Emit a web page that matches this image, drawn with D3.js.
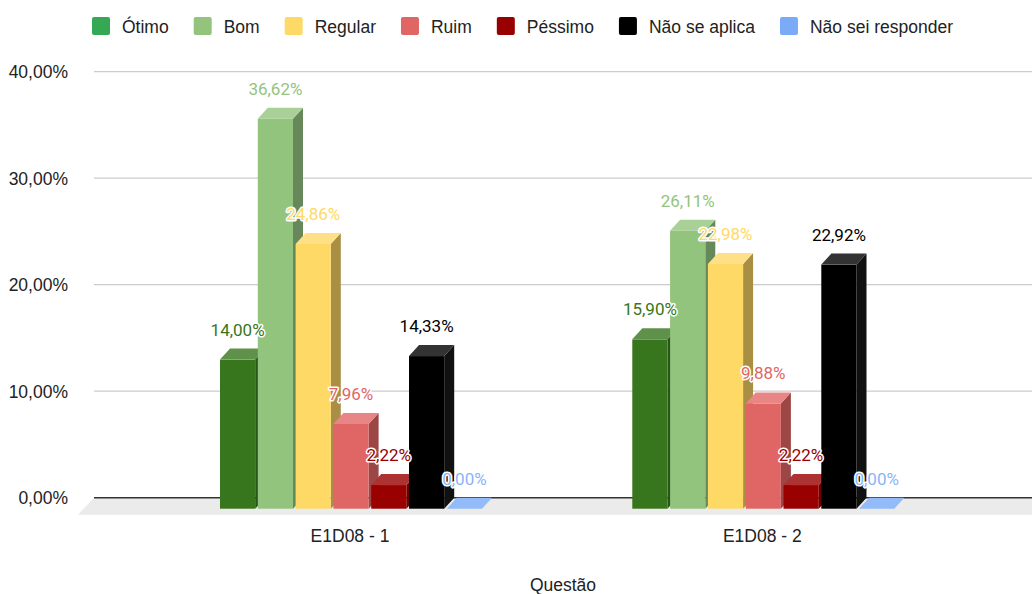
<!DOCTYPE html>
<html><head><meta charset="utf-8">
<script src="https://cdn.jsdelivr.net/npm/d3@7"></script>
<style>
html,body{margin:0;padding:0;background:#fff;}
svg{display:block;}
</style></head>
<body>
<svg id="chart" width="1032" height="594"></svg>
<script>
const categories = ["E1D08 - 1", "E1D08 - 2"];
const seriesNames = ["Ótimo", "Bom", "Regular", "Ruim", "Péssimo", "Não se aplica", "Não sei responder"];
const valuesQ1 = [14.00, 36.62, 24.86, 7.96, 2.22, 14.33, 0.00];
const valuesQ2 = [15.90, 26.11, 22.98, 9.88, 2.22, 22.92, 0.00];
const yTicks = [0, 10, 20, 30, 40];
const xTitle = "Questão";

const frontColors = ["#38761d", "#93c47d", "#ffd966", "#e06666", "#990000", "#000000", "#8ab4f8"];
const topColors   = ["#5f914a", "#a9d197", "#ffe087", "#e88686", "#ad3333", "#333333", "#93bbf9"];
const sideColors  = ["#28561a", "#66885a", "#a88f43", "#9c4646", "#6b0000", "#111111", "#6a8cc4"];
const legendColors = ["#34a853", "#93c47d", "#ffd966", "#e06666", "#990000", "#000000", "#7baaf7"];
const labelColors = ["#38761d", "#93c47d", "#ffd966", "#e06666", "#990000", "#000000", "#8ab4f8"];

const table = categories.map((c, i) => ({cat: c, vals: [valuesQ1, valuesQ2][i]}));

const svg = d3.select("#chart");
const plotL = 94, plotR = 1032;
const DX = 10, DY = 11;
const FLOOR_DX = 16, FLOOR_DY = 17;

const y = d3.scaleLinear().domain([0, 40]).range([497.7, 71.7]);
const x0 = d3.scaleBand().domain(categories).range([220, 894.3]).paddingInner(0.3645).paddingOuter(0);
const x1 = d3.scaleBand().domain(seriesNames).range([0, x0.bandwidth()]).paddingInner(0.069).paddingOuter(0);

const axisFont = "'Liberation Sans', Arial, sans-serif";
const labelFont = "Roboto, 'Liberation Sans', sans-serif";
const axisSize = 17.5;

// floor
const y0 = y(0);
svg.append("path")
  .attr("d", `M${plotL},${y0} L${plotR},${y0} L${plotR},${y0 + FLOOR_DY} L${plotL - FLOOR_DX},${y0 + FLOOR_DY} Z`)
  .attr("fill", "#ebebeb");

// gridlines
svg.append("g").selectAll("line").data(yTicks.filter(t => t !== 0)).join("line")
  .attr("x1", plotL).attr("x2", plotR)
  .attr("y1", d => y(d)).attr("y2", d => y(d))
  .attr("stroke", "#cccccc").attr("stroke-width", 1.3);
svg.append("line")
  .attr("x1", plotL).attr("x2", plotR).attr("y1", y0).attr("y2", y0)
  .attr("stroke", "#333333").attr("stroke-width", 1.6);

// y labels
svg.append("g").selectAll("text").data(yTicks).join("text")
  .attr("x", 68).attr("y", d => y(d)).attr("dy", "0.36em")
  .attr("text-anchor", "end")
  .attr("font-family", axisFont).attr("font-size", axisSize).attr("fill", "#222")
  .text(d => d3.format(".2f")(d).replace(".", ",") + "%");

// bars
const bars = svg.append("g");
table.forEach(row => {
  row.vals.forEach((v, i) => {
    const xl = x0(row.cat) + x1(seriesNames[i]);
    const w = x1.bandwidth();
    const yt = y(v) + DY;   // front top
    const yb = y(0) + DY;   // front bottom
    const g = bars.append("g");
    if (v > 0) {
      g.append("path")
        .attr("d", `M${xl + w},${yt} L${xl + w + DX},${yt - DY} L${xl + w + DX},${yb - DY} L${xl + w},${yb} Z`)
        .attr("fill", sideColors[i]);
      g.append("rect")
        .attr("x", xl).attr("y", yt).attr("width", w).attr("height", yb - yt)
        .attr("fill", frontColors[i]);
    }
    g.append("path")
      .attr("d", `M${xl},${yt} L${xl + DX},${yt - DY} L${xl + w + DX},${yt - DY} L${xl + w},${yt} Z`)
      .attr("fill", topColors[i]);
  });
});

// data labels
const labels = svg.append("g");
table.forEach(row => {
  row.vals.forEach((v, i) => {
    const xl = x0(row.cat) + x1(seriesNames[i]);
    const w = x1.bandwidth();
    labels.append("text")
      .attr("x", xl + w / 2)
      .attr("y", y(v) - 13)
      .attr("text-anchor", "middle")
      .attr("font-family", labelFont).attr("font-size", 17)
      .attr("fill", labelColors[i])
      .attr("stroke", "#fff").attr("stroke-width", 3).attr("stroke-linejoin", "round")
      .attr("paint-order", "stroke")
      .text(v.toFixed(2).replace(".", ",") + "%");
  });
});

// x labels
svg.append("g").selectAll("text").data(categories).join("text")
  .attr("x", d => x0(d) + x0.bandwidth() / 2 - 1)
  .attr("y", 541.5)
  .attr("text-anchor", "middle")
  .attr("font-family", axisFont).attr("font-size", axisSize).attr("fill", "#222")
  .text(d => d);

svg.append("text")
  .attr("x", (plotL + plotR) / 2).attr("y", 590.5)
  .attr("text-anchor", "middle")
  .attr("font-family", axisFont).attr("font-size", axisSize).attr("fill", "#222")
  .text(xTitle);

// legend
const leg = svg.append("g");
let lx = 92;
seriesNames.forEach((s, i) => {
  leg.append("rect").attr("x", lx).attr("y", 17).attr("width", 18).attr("height", 18)
    .attr("rx", 2).attr("fill", legendColors[i]);
  const t = leg.append("text").attr("x", lx + 30).attr("y", 33)
    .attr("font-family", axisFont).attr("font-size", axisSize).attr("fill", "#222").text(s);
  lx = lx + 30 + t.node().getComputedTextLength() + 25;
});
</script>
</body></html>
